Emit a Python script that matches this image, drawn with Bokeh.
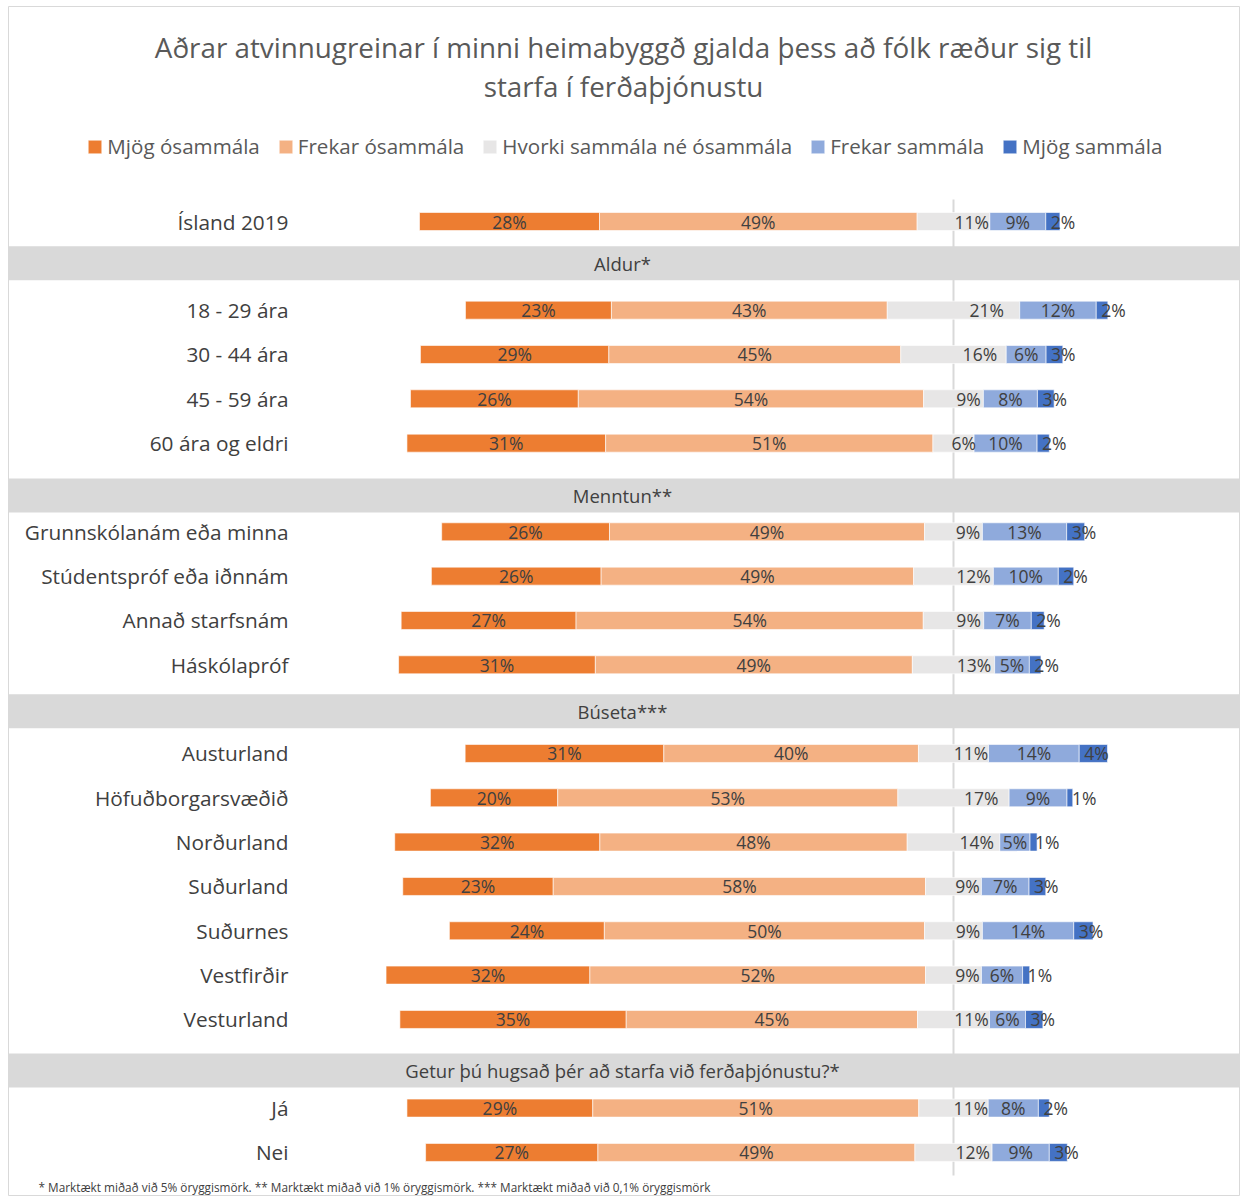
import pandas as pd
from bokeh.plotting import figure
from bokeh.models import ColumnDataSource, Range1d, Legend, LegendItem
from bokeh.core.properties import value
from bokeh.embed import file_html
from bokeh.resources import INLINE

# ---------------- data ----------------
title_lines = [
    "Aðrar atvinnugreinar í minni heimabyggð gjalda þess að fólk ræður sig til",
    "starfa í ferðaþjónustu",
]
series_names = ["Mjög ósammála", "Frekar ósammála", "Hvorki sammála né ósammála",
                "Frekar sammála", "Mjög sammála"]
group_headers = ["", "Aldur*", "Menntun**", "Búseta***",
                 "Getur þú hugsað þér að starfa við ferðaþjónustu?*"]
group_sizes = [1, 4, 4, 7, 2]
categories = ["Ísland 2019",
              "18 - 29 ára", "30 - 44 ára", "45 - 59 ára", "60 ára og eldri",
              "Grunnskólanám eða minna", "Stúdentspróf eða iðnnám", "Annað starfsnám", "Háskólapróf",
              "Austurland", "Höfuðborgarsvæðið", "Norðurland", "Suðurland", "Suðurnes",
              "Vestfirðir", "Vesturland",
              "Já", "Nei"]
mjog_osammala = [28.0, 22.7, 29.3, 26.1, 30.9, 26.1, 26.4, 27.2, 30.6,
                 30.9, 19.8, 31.9, 23.4, 24.1, 31.7, 35.2, 28.9, 26.8]
frekar_osammala = [49.4, 42.9, 45.4, 53.7, 50.9, 49.0, 48.6, 54.0, 49.3,
                   39.6, 52.9, 47.8, 57.9, 49.8, 52.2, 45.3, 50.7, 49.3]
hvorki = [11.3, 20.6, 16.4, 9.3, 6.4, 9.0, 12.4, 9.4, 12.8,
          10.9, 17.3, 14.4, 8.7, 9.0, 8.7, 11.2, 10.8, 12.0]
frekar_sammala = [8.7, 11.9, 6.2, 8.4, 9.8, 13.1, 10.1, 7.4, 5.4,
                  14.1, 9.0, 4.7, 7.4, 14.2, 6.4, 5.6, 7.8, 8.9]
mjog_sammala = [2.2, 1.8, 2.6, 2.6, 1.9, 2.8, 2.4, 2.0, 1.8,
                4.4, 0.9, 1.1, 2.6, 3.0, 1.1, 2.7, 1.7, 2.8]
footnote = ("* Marktækt miðað við 5% öryggismörk. ** Marktækt miðað við 1% öryggismörk. "
            "*** Marktækt miðað við 0,1% öryggismörk")

# ---------------- layout / style (page pixels) ----------------
W, H = 1242, 1196
FRAME_L, FRAME_R, FRAME_T, FRAME_B = 8, 1239, 6, 1196
PX_PER_PCT = 6.43
CENTER_PX = 953.0
ROW_PX = 44.33
FIRST_ROW_PX = 221.0
header_shift = [0.0, -0.06, 0.18, 0.05, 0.15]
colors = ["#ED7D31", "#F4B183", "#E7E6E6", "#8FAADC", "#4472C4"]
TXT = "#404040"
FONT = value("Open Sans")


def px_to_slot(py):
    return (py - FIRST_ROW_PX) / ROW_PX


def px_to_x(px):
    return (px - CENTER_PX) / PX_PER_PCT


x_start, x_end = px_to_x(FRAME_L), px_to_x(FRAME_R)
y_top, y_bottom = px_to_slot(FRAME_T), px_to_slot(FRAME_B)

# slots
row_slot, header_slot, header_text = [], [], []
slot = 0
for hdr, n, sh in zip(group_headers, group_sizes, header_shift):
    if hdr:
        header_slot.append(slot + sh)
        header_text.append(hdr)
        slot += 1
    for _ in range(n):
        row_slot.append(slot)
        slot += 1

df = pd.DataFrame({
    "cat": categories, "y": row_slot,
    "mo": mjog_osammala, "fo": frekar_osammala, "hv": hvorki,
    "fs": frekar_sammala, "ms": mjog_sammala,
})
df["e0"] = -(df.mo + df.fo + df.hv / 2)
df["e1"] = -(df.fo + df.hv / 2)
df["e2"] = -df.hv / 2
df["e3"] = df.hv / 2
df["e4"] = df.hv / 2 + df.fs
df["e5"] = df.hv / 2 + df.fs + df.ms
for c in ["mo", "fo", "hv", "fs", "ms"]:
    df[c + "_lbl"] = df[c].map(lambda v: f"{v:.0f}%")
df["mo_x"] = (df.e0 + df.e1) / 2
df["fo_x"] = (df.e1 + df.e2) / 2
df["hv_x"] = df.hv / 4
df["fs_x"] = (df.e3 + df.e4) / 2
df["ms_x"] = df.e4
src = ColumnDataSource(df)

p = figure(width=W, height=H, x_range=Range1d(x_start, x_end),
           y_range=Range1d(y_bottom, y_top), output_backend="svg",
           toolbar_location=None, x_axis_type=None, y_axis_type=None,
           min_border_left=FRAME_L, min_border_right=W - FRAME_R,
           min_border_top=FRAME_T, min_border_bottom=H - FRAME_B)
p.grid.visible = False
p.outline_line_color = "#d9d9d9"
p.background_fill_color = "white"
p.border_fill_color = "white"

# center line
p.segment(x0=[0], x1=[0], y0=[px_to_slot(199)], y1=[px_to_slot(1175)],
          line_color="#d9d9d9", line_width=2)

# header bands
band_src = ColumnDataSource(dict(y=header_slot, t=header_text))
p.hbar(y="y", left=x_start, right=x_end, height=34 / ROW_PX, source=band_src,
       fill_color="#d9d9d9", line_color=None)
p.text(x=px_to_x(622), y="y", text="t", source=band_src,
       text_font=FONT, text_font_size="18.5px", text_color=TXT,
       text_align="center", text_baseline="middle")

# bars
bh = 18 / ROW_PX
renderers = []
edges = [("e0", "e1"), ("e1", "e2"), ("e2", "e3"), ("e3", "e4"), ("e4", "e5")]
for (l, r), col in zip(edges, colors):
    rr = p.hbar(y="y", left=l, right=r, height=bh, source=src,
                fill_color=col, line_color="white", line_width=0.6)
    renderers.append(rr)

# data labels
for key in ["mo", "fo", "hv", "fs"]:
    p.text(x=key + "_x", y="y", text=key + "_lbl", source=src,
           text_font=FONT, text_font_size="17.5px", text_color=TXT,
           text_align="center", text_baseline="middle")
p.text(x="ms_x", y="y", text="ms_lbl", source=src, x_offset=5,
       text_font=FONT, text_font_size="17.5px", text_color=TXT,
       text_align="left", text_baseline="middle")

# category labels
p.text(x=px_to_x(288), y="y", text="cat", source=src,
       text_font=FONT, text_font_size="20.8px", text_color=TXT,
       text_align="right", text_baseline="middle")

# title
p.text(x=[px_to_x(623)] * 2, y=[px_to_slot(46), px_to_slot(85)],
       text=title_lines, text_font=FONT, text_font_size="27.8px",
       text_color="#595959", text_align="center", text_baseline="middle")

# footnote
p.text(x=[px_to_x(38)], y=[px_to_slot(1186)], text=[footnote],
       text_font=FONT, text_font_size="11.8px", text_color=TXT,
       text_align="left", text_baseline="middle")

legend = Legend(items=[LegendItem(label=n, renderers=[r]) for n, r in zip(series_names, renderers)],
                orientation="horizontal", location=(86.3 - FRAME_L, FRAME_B - 147 - 13),
                label_text_font="Open Sans", label_text_font_size="20.6px",
                label_text_color="#595959", glyph_width=17, glyph_height=17,
                label_standoff=4, spacing=17, padding=0, margin=0,
                border_line_color=None, background_fill_alpha=0)
p.add_layout(legend, "center")

open("out.html", "w").write(file_html(p, INLINE))
